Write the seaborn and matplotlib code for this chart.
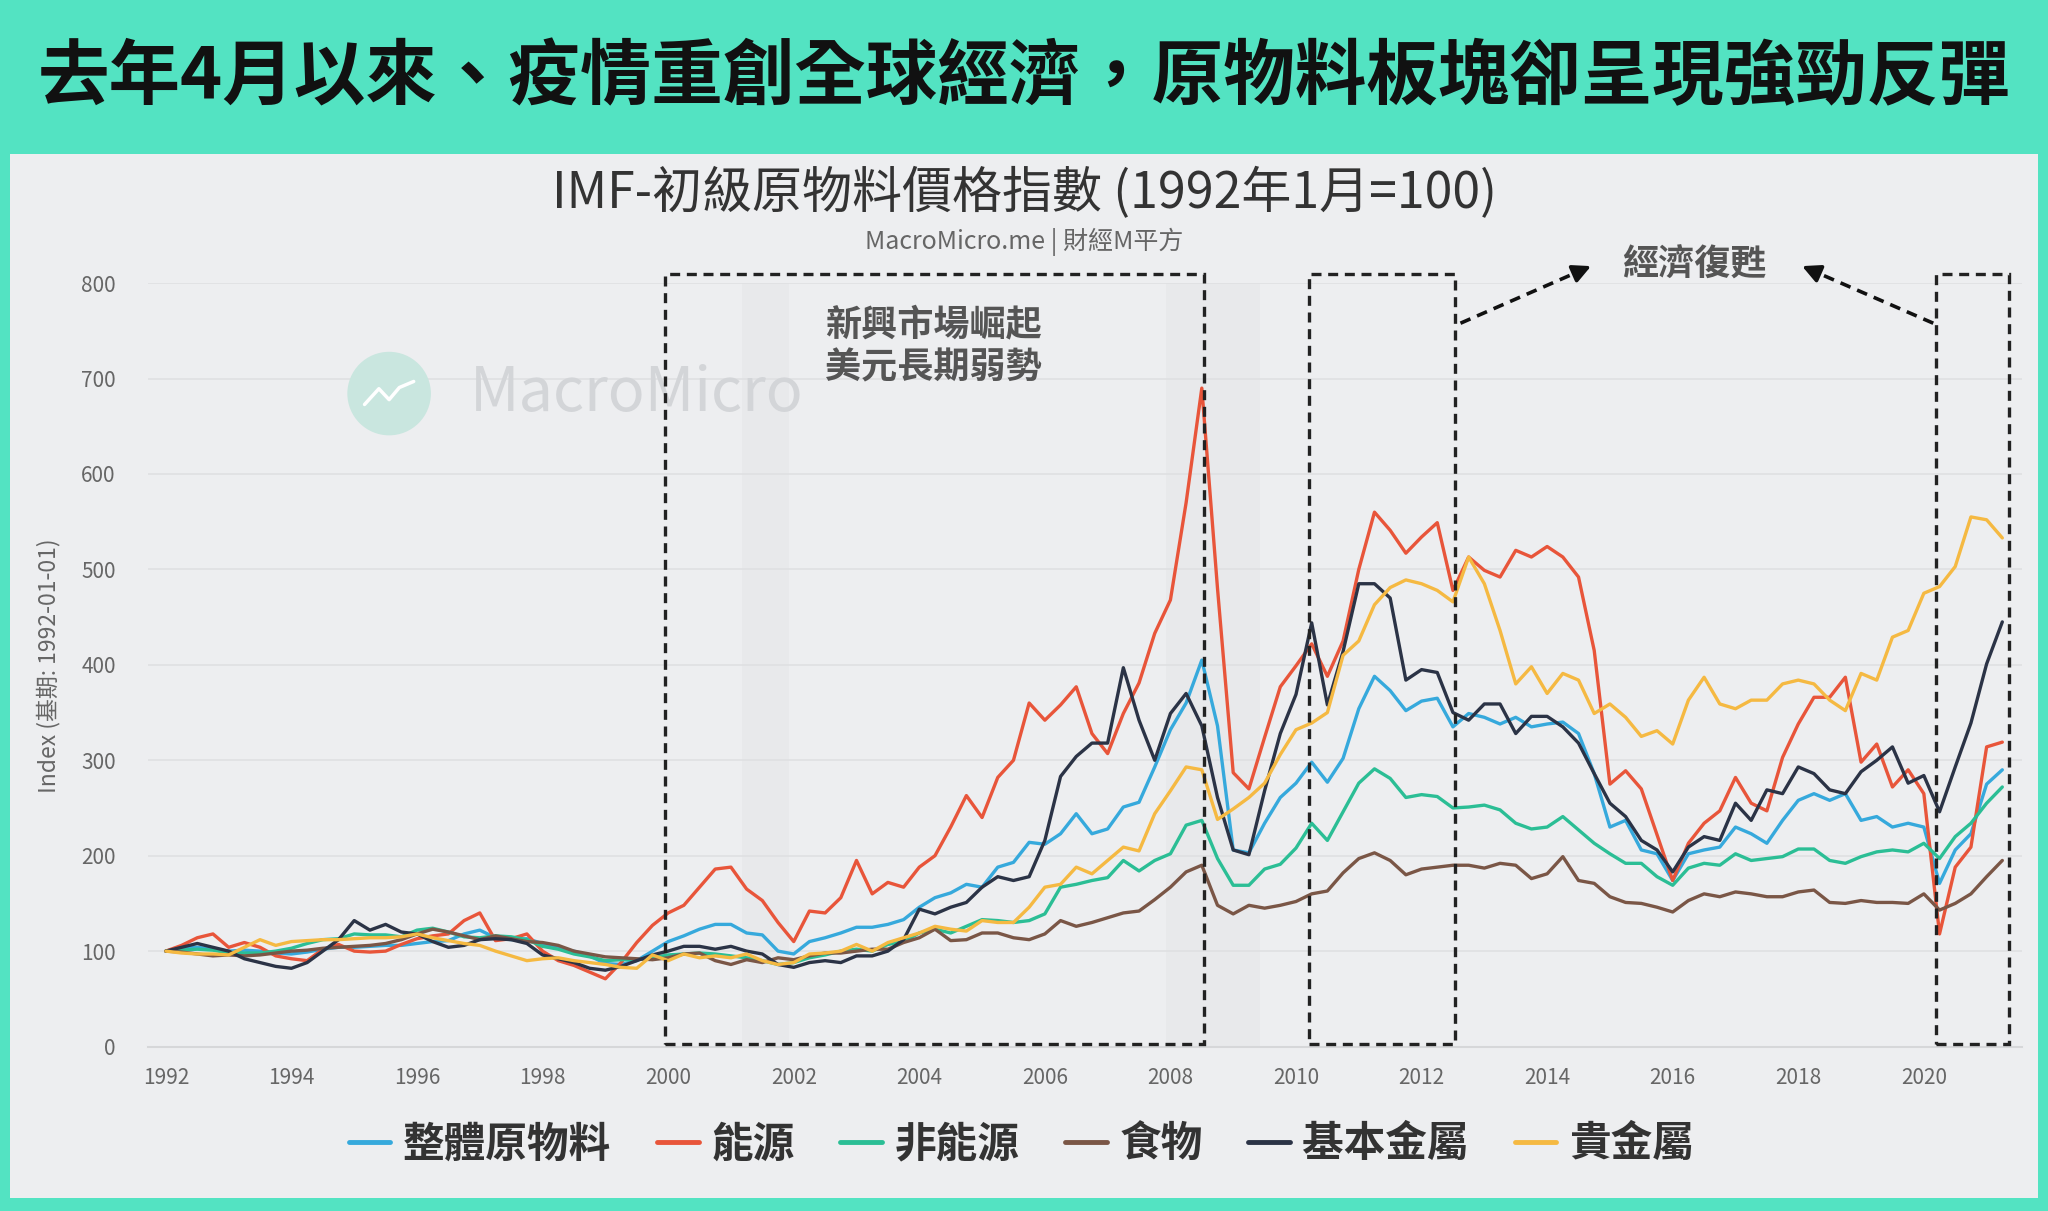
import numpy as np
import pandas as pd
import matplotlib
matplotlib.use("Agg")
import matplotlib.pyplot as plt
import seaborn as sns
from matplotlib.patches import Rectangle, Ellipse

sns.set_theme(style="white")
plt.rcParams['font.family'] = ['Noto Sans CJK TC', 'DejaVu Sans']

# quarterly points, 1992Q1 .. 2021Q2
years = np.arange(1992, 2021.5, 0.25)

overall = [100, 103, 104, 102, 100, 101, 100, 98, 97, 99, 102, 104, 104, 105, 106, 106,
           108, 110, 111, 118, 122, 114, 112, 113, 108, 103, 100, 95, 87, 86, 90, 100,
           110, 116, 123, 128, 128, 119, 117, 100, 97, 110, 114, 119, 125, 125, 128, 133,
           146, 156, 161, 170, 167, 188, 193, 214, 212, 223, 244, 223, 228, 251, 256, 293,
           332, 360, 405, 336, 206, 203, 234, 261, 276, 298, 277, 302, 354, 388, 373, 352,
           362, 365, 335, 349, 345, 338, 345, 335, 338, 340, 328, 286, 230, 237, 206, 202,
           174, 202, 206, 209, 230, 223, 213, 237, 258, 265, 258, 265, 237, 241, 230, 234,
           230, 171, 206, 223, 275, 290]
energy = [100, 106, 114, 118, 104, 109, 104, 95, 92, 90, 102, 107, 100, 99, 100, 107,
          113, 116, 118, 132, 140, 111, 113, 118, 100, 90, 85, 78, 71, 88, 109, 127,
          140, 148, 167, 186, 188, 165, 153, 130, 110, 142, 140, 156, 195, 160, 172, 167,
          188, 200, 230, 263, 240, 282, 300, 360, 342, 358, 377, 328, 307, 349, 381, 433,
          468, 570, 690, 480, 287, 270, 324, 377, 399, 422, 388, 425, 500, 560, 541, 517,
          534, 549, 478, 513, 499, 492, 520, 513, 524, 513, 492, 415, 275, 289, 270, 222,
          174, 213, 234, 247, 282, 255, 247, 303, 338, 366, 366, 387, 298, 317, 272, 290,
          265, 118, 188, 209, 314, 319]
non_energy = [100, 101, 102, 101, 98, 98, 98, 100, 103, 108, 112, 113, 118, 117, 117, 115,
              122, 124, 120, 115, 114, 116, 115, 112, 105, 102, 97, 94, 90, 91, 91, 93,
              96, 97, 98, 97, 95, 93, 90, 86, 88, 93, 96, 100, 102, 100, 107, 110,
              119, 123, 119, 126, 133, 132, 130, 132, 139, 167, 170, 174, 177, 195, 184, 195,
              202, 232, 237, 197, 169, 169, 186, 191, 208, 234, 216, 246, 276, 291, 281, 261,
              264, 262, 250, 251, 253, 248, 234, 228, 230, 241, 227, 213, 202, 192, 192, 178,
              169, 187, 192, 190, 202, 195, 197, 199, 207, 207, 195, 192, 199, 204, 206, 204,
              213, 197, 220, 234, 255, 272]
food = [100, 99, 97, 95, 96, 95, 96, 98, 100, 101, 103, 104, 105, 106, 108, 112,
        118, 123, 120, 116, 112, 116, 113, 110, 109, 106, 100, 97, 94, 93, 92, 91,
        93, 97, 98, 90, 86, 91, 88, 93, 91, 95, 98, 98, 100, 102, 102, 109,
        114, 123, 111, 112, 119, 119, 114, 112, 118, 132, 126, 130, 135, 140, 142, 154,
        167, 183, 190, 148, 139, 148, 145, 148, 152, 160, 163, 182, 197, 203, 195, 180,
        186, 188, 190, 190, 187, 192, 190, 176, 181, 199, 174, 171, 157, 151, 150, 146,
        141, 153, 160, 157, 162, 160, 157, 157, 162, 164, 151, 150, 153, 151, 151, 150,
        160, 143, 150, 160, 178, 195]
base_metals = [100, 104, 108, 104, 100, 92, 88, 84, 82, 88, 100, 112, 132, 122, 128, 120,
               118, 110, 104, 106, 112, 113, 112, 108, 96, 92, 88, 82, 80, 84, 90, 96,
               100, 105, 105, 102, 105, 100, 97, 86, 83, 88, 90, 88, 95, 95, 100, 112,
               144, 139, 146, 151, 167, 178, 174, 178, 216, 283, 304, 318, 318, 397, 342, 300,
               349, 370, 336, 261, 206, 201, 268, 328, 369, 444, 358, 414, 485, 485, 470, 384,
               395, 392, 350, 342, 359, 359, 328, 346, 346, 335, 318, 286, 255, 241, 216, 206,
               183, 209, 220, 216, 255, 237, 269, 265, 293, 286, 269, 265, 288, 300, 314, 276,
               284, 246, 293, 339, 401, 445]
precious = [100, 98, 97, 97, 96, 104, 112, 106, 110, 111, 112, 112, 113, 114, 114, 115,
            118, 114, 111, 108, 106, 100, 95, 90, 92, 93, 90, 88, 86, 83, 82, 96,
            90, 97, 93, 95, 93, 97, 90, 86, 88, 97, 98, 100, 107, 100, 109, 114,
            119, 126, 123, 121, 132, 130, 130, 146, 167, 170, 188, 181, 195, 209, 205, 244,
            268, 293, 290, 238, 249, 261, 276, 306, 332, 339, 350, 410, 425, 463, 481, 489,
            485, 478, 466, 513, 485, 436, 380, 398, 370, 391, 384, 349, 359, 345, 325, 331,
            317, 363, 387, 359, 354, 363, 363, 380, 384, 380, 363, 352, 391, 384, 429, 436,
            475, 482, 503, 555, 552, 533]

series_names = ['整體原物料', '能源', '非能源', '食物', '基本金屬', '貴金屬']
series_colors = ['#36A9DC', '#E8553A', '#2BBE95', '#7A5646', '#2B3346', '#F5B942']
x_ticks = list(range(1992, 2021, 2))
y_ticks = list(range(0, 801, 100))

df = pd.DataFrame({'year': years, '整體原物料': overall, '能源': energy, '非能源': non_energy,
                   '食物': food, '基本金屬': base_metals, '貴金屬': precious})
df_long = df.melt(id_vars='year', var_name='series', value_name='value')

teal = '#53E3C2'
panel = '#EDEEF0'
fig = plt.figure(figsize=(20.48, 12.11), dpi=100, facecolor=teal)
fig.patches.append(Rectangle((0.005, 0.011), 0.99, 0.862, transform=fig.transFigure,
                             facecolor=panel, edgecolor='none', zorder=-2))

ax = fig.add_axes([0.0721, 0.1358, 0.9151, 0.6304])
ax.set_zorder(2)
ax.patch.set_alpha(0)

# recession shading
ax.axvspan(2001.17, 2001.92, color='#E8E9EB', zorder=0, lw=0)
ax.axvspan(2007.93, 2009.43, color='#E8E9EB', zorder=0, lw=0)

# watermark, above shading and below lines
ax.add_patch(Ellipse((0.190, 0.675), 0.0408, 0.069, transform=fig.transFigure,
                     facecolor='#C9E6DF', edgecolor='none', zorder=1, clip_on=False))
ax.plot([0.178, 0.185, 0.190, 0.195, 0.202], [0.666, 0.679, 0.670, 0.680, 0.685],
        transform=fig.transFigure, color='white', lw=2.5, zorder=1.1, clip_on=False)
ax.text(0.2296, 0.675, 'MacroMicro', transform=fig.transFigure, ha='left', va='center',
        fontsize=44, color='#D3D5D8', zorder=1)

sns.lineplot(data=df_long, x='year', y='value', hue='series', hue_order=series_names,
             palette=series_colors, linewidth=2.4, ax=ax, zorder=3)

ax.set_xlim(1991.71, 2021.56)
ax.set_ylim(0, 800)
ax.set_xticks(x_ticks)
ax.set_xticklabels([str(t) for t in x_ticks])
ax.set_yticks(y_ticks)
ax.tick_params(axis='x', colors='#DADBDD', labelcolor='#666666', labelsize=15,
               length=9, width=1, pad=6, direction='out')
ax.tick_params(axis='y', labelcolor='#666666', labelsize=15, length=0, pad=23)
ax.set_axisbelow(True)
ax.yaxis.grid(True, color='#E0E1E3', lw=1.3)
ax.xaxis.grid(False)
for s in ['top', 'right', 'left']:
    ax.spines[s].set_visible(False)
ax.spines['bottom'].set_color('#D6D7D9')
ax.spines['bottom'].set_linewidth(1.5)
ax.set_xlabel('')
ax.set_ylabel('')
fig.text(0.0236, 0.45, 'Index (基期: 1992-01-01)', rotation=90, ha='center', va='center',
         fontsize=16.5, color='#666666')

# dashed boxes
box_spans = [(1999.95, 2008.54), (2010.2, 2012.53), (2020.19, 2021.35)]
for x0, x1 in box_spans:
    ax.add_patch(Rectangle((x0, 2.7), x1 - x0, 807.3, fill=False, edgecolor='#222222',
                           lw=2.4, linestyle=(0, (3, 2)), clip_on=False, zorder=6))

ax.text(2004.23, 734, '新興市場崛起\n美元長期弱勢', ha='center', va='center', fontsize=26,
        color='#555555', fontweight='bold', linespacing=1.2, zorder=7)
ax.text(2016.34, 819, '經濟復甦', ha='center', va='center', fontsize=26,
        color='#555555', fontweight='bold', clip_on=False, zorder=7)

arrows = [((2012.62, 758), (2014.74, 819)), ((2020.15, 758), (2018.02, 819))]
for (xa, ya), (xb, yb) in arrows:
    ax.plot([xa, xa + (xb - xa) * 0.9], [ya, ya + (yb - ya) * 0.9], color='#111111',
            lw=2.6, linestyle=(0, (3, 2)), clip_on=False, zorder=7)
    ax.annotate('', xy=(xb, yb), xytext=(xa + (xb - xa) * 0.85, ya + (yb - ya) * 0.85),
                arrowprops=dict(arrowstyle='-|>,head_length=0.9,head_width=0.45',
                                color='#111111', lw=2.6),
                annotation_clip=False, zorder=7)

# titles
fig.text(0.5, 0.935, '去年4月以來、疫情重創全球經濟，原物料板塊卻呈現強勁反彈', ha='center',
         va='center', fontsize=51.5, fontweight='bold', color='#111111')
fig.text(0.5, 0.840, 'IMF-初級原物料價格指數 (1992年1月=100)', ha='center', va='center',
         fontsize=36, color='#333333')
fig.text(0.5, 0.800, 'MacroMicro.me | 財經M平方', ha='center', va='center',
         fontsize=18, color='#666666')

handles, labels = ax.get_legend_handles_labels()
ax.legend_.remove()
for h in handles:
    h.set_linewidth(3.5)
fig.legend(handles, labels, loc='center', bbox_to_anchor=(0.4987, 0.055), ncol=6,
           frameon=False, prop={'size': 30, 'weight': 'bold'}, handlelength=1.0,
           handletextpad=0.3, columnspacing=1.1, labelcolor='#333333')

fig.savefig('out.png', dpi=100, facecolor=teal)
